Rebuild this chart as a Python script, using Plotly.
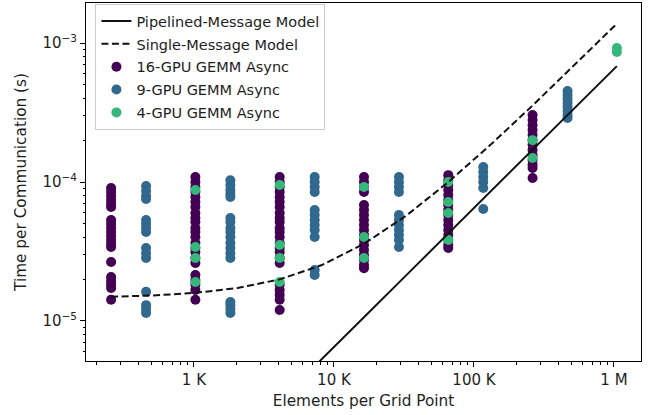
import plotly.graph_objects as go

# ---------------- data ----------------
# Model curves (elements per grid point -> seconds)
model_x = [256, 512, 1024, 2048, 4096, 8192, 16384, 32768, 65536,
           131072, 262144, 524288, 1048576]
pipelined_t = [1.66e-7, 3.33e-7, 6.66e-7, 1.33e-6, 2.66e-6, 5.32e-6, 1.065e-5,
               2.13e-5, 4.26e-5, 8.52e-5, 1.70e-4, 3.41e-4, 6.82e-4]
single_t = [1.493e-5, 1.527e-5, 1.593e-5, 1.726e-5, 1.992e-5, 2.525e-5, 3.59e-5,
            5.72e-5, 9.98e-5, 1.85e-4, 3.55e-4, 6.97e-4, 1.378e-3]

# 16-GPU GEMM Async
gpu16_x = [256, 1024, 4096, 16384, 65536, 262144]
gpu16_t = [
    [9.06e-5, 8.47e-5, 7.93e-5, 7.43e-5, 6.95e-5, 6.61e-5, 5.33e-5, 4.99e-5, 4.67e-5,
     4.37e-5, 4.09e-5, 3.83e-5, 3.58e-5, 3.41e-5, 2.66e-5, 2.07e-5, 1.94e-5, 1.82e-5,
     1.73e-5, 1.42e-5],
    [1.087e-4, 1.0e-4, 9.2e-5, 8.47e-5, 7.8e-5, 7.18e-5, 6.61e-5, 5.98e-5, 5.51e-5,
     5.16e-5, 4.67e-5, 4.37e-5, 4.02e-5, 3.64e-5, 3.35e-5, 3.13e-5, 2.84e-5, 2.61e-5,
     2.14e-5, 1.97e-5, 1.82e-5, 1.67e-5, 1.42e-5],
    [1.087e-4, 1.0e-4, 9.2e-5, 8.47e-5, 7.8e-5, 7.18e-5, 6.61e-5, 5.98e-5, 5.51e-5,
     5.16e-5, 4.67e-5, 4.37e-5, 4.02e-5, 3.64e-5, 3.35e-5, 3.13e-5, 2.84e-5, 2.61e-5,
     1.82e-5, 1.67e-5, 1.54e-5, 1.42e-5, 1.20e-5],
    [1.087e-4, 1.0e-4, 9.2e-5, 8.47e-5, 6.84e-5, 6.29e-5, 5.79e-5, 5.33e-5, 4.91e-5,
     4.52e-5, 4.16e-5, 3.83e-5, 3.52e-5, 3.24e-5, 2.98e-5, 2.75e-5, 2.53e-5, 2.40e-5],
    [1.12e-4, 1.03e-4, 9.51e-5, 8.75e-5, 8.06e-5, 7.43e-5, 6.84e-5, 6.29e-5, 5.79e-5,
     5.33e-5, 4.91e-5, 4.52e-5, 4.16e-5, 3.83e-5, 3.52e-5, 3.35e-5],
    [3.03e-4, 2.79e-4, 2.57e-4, 2.37e-4, 2.18e-4, 2.0e-4, 1.85e-4, 1.70e-4, 1.56e-4,
     1.44e-4, 1.33e-4, 1.26e-4, 1.07e-4],
]

# 9-GPU GEMM Async
gpu9_x = [455.1, 1820.4, 7281.8, 29127.1, 116508.4, 466033.8]
gpu9_t = [
    [9.35e-5, 8.61e-5, 7.93e-5, 7.55e-5, 5.33e-5, 4.99e-5, 4.67e-5, 4.37e-5, 3.35e-5,
     3.08e-5, 2.84e-5, 1.62e-5, 1.30e-5, 1.22e-5, 1.14e-5],
    [1.03e-4, 9.51e-5, 8.75e-5, 8.2e-5, 7.8e-5, 5.51e-5, 5.16e-5, 4.67e-5, 4.37e-5,
     4.02e-5, 3.64e-5, 3.35e-5, 3.08e-5, 2.84e-5, 1.37e-5, 1.30e-5, 1.22e-5, 1.14e-5],
    [1.087e-4, 1.0e-4, 9.2e-5, 8.47e-5, 6.29e-5, 5.79e-5, 5.33e-5, 4.91e-5, 4.52e-5,
     4.02e-5, 2.33e-5, 2.14e-5],
    [1.087e-4, 1.0e-4, 9.2e-5, 8.47e-5, 5.79e-5, 5.33e-5, 4.91e-5, 4.52e-5, 4.16e-5,
     3.83e-5, 3.41e-5],
    [1.28e-4, 1.18e-4, 1.087e-4, 1.0e-4, 9.06e-5, 6.4e-5],
    [4.52e-4, 4.23e-4, 3.96e-4, 3.70e-4, 3.46e-4, 3.24e-4, 3.03e-4, 2.89e-4],
]

# 4-GPU GEMM Async
gpu4_x = [1024, 4096, 16384, 65536, 262144, 1048576]
gpu4_t = [
    [8.75e-5, 3.41e-5, 2.84e-5, 1.91e-5],
    [9.51e-5, 3.52e-5, 2.84e-5, 1.91e-5],
    [9.2e-5, 4.02e-5, 2.84e-5],
    [1.0e-4, 7.18e-5, 5.98e-5, 3.83e-5],
    [2.0e-4, 1.49e-4],
    [9.21e-4, 8.62e-4],
]

x_tick_vals = [1e3, 1e4, 1e5, 1e6]
x_tick_text = ["1 K", "10 K", "100 K", "1 M"]
y_tick_vals = [1e-5, 1e-4, 1e-3]
y_tick_text = ["10<sup>\u22125</sup>", "10<sup>\u22124</sup>", "10<sup>\u22123</sup>"]


def flatten(xs, groups):
    fx, fy = [], []
    for x, g in zip(xs, groups):
        for v in g:
            fx.append(x)
            fy.append(v)
    return fx, fy


FONT = "DejaVu Sans"
TXT = "#1e1e1e"

fig = go.Figure()

series = [
    ("16-GPU GEMM Async", gpu16_x, gpu16_t, "#440154", 3),
    ("9-GPU GEMM Async", gpu9_x, gpu9_t, "#31688e", 4),
    ("4-GPU GEMM Async", gpu4_x, gpu4_t, "#35b779", 5),
]
for name, xs, groups, color, rank in series:
    fx, fy = flatten(xs, groups)
    fig.add_trace(go.Scatter(
        x=fx, y=fy, mode="markers", name=name, legendrank=rank,
        legendgroup=name,
        marker=dict(color=color, size=10, line=dict(width=0)),
    ))

fig.add_trace(go.Scatter(
    x=model_x, y=pipelined_t, mode="lines", name="Pipelined-Message Model",
    legendrank=1, legendgroup="pipe", line=dict(color="#111111", width=2),
))
fig.add_trace(go.Scatter(
    x=model_x, y=single_t, mode="lines", name="Single-Message Model",
    legendrank=2, legendgroup="single",
    line=dict(color="#111111", width=2, dash="7px,3.5px"),
))

minor_x = [m * 10 ** e for e in range(2, 7) for m in range(2, 10)]
minor_y = [m * 10 ** e for e in range(-6, -2) for m in range(2, 10)]

axis_common = dict(
    type="log", showgrid=False, zeroline=False, automargin=False,
    showline=True, linecolor="black", linewidth=1, mirror=True,
    ticks="outside", ticklen=5, tickwidth=1, tickcolor="black",
    tickfont=dict(family=FONT, size=15, color=TXT),
    title_font=dict(family=FONT, size=15.3, color=TXT),
)

fig.update_layout(
    width=651, height=415,
    margin=dict(l=86, r=10, t=3, b=54),
    paper_bgcolor="white", plot_bgcolor="white",
    font=dict(family=FONT, size=14.5, color=TXT),
    xaxis=dict(
        **axis_common,
        range=[2.229, 6.193],
        tickmode="array", tickvals=x_tick_vals, ticktext=x_tick_text,
        minor=dict(tickmode="array", tickvals=minor_x, ticks="outside",
                   ticklen=2.5, tickwidth=0.8, tickcolor="black", showgrid=False),
        title=dict(text="Elements per Grid Point", standoff=7),
    ),
    yaxis=dict(
        **axis_common,
        range=[-5.288, -2.712],
        tickmode="array", tickvals=y_tick_vals, ticktext=y_tick_text,
        minor=dict(tickmode="array", tickvals=minor_y, ticks="outside",
                   ticklen=2.5, tickwidth=0.8, tickcolor="black", showgrid=False),
        title=dict(text="Time per Communication (s)", standoff=12),
    ),
    legend=dict(
        x=0.017, y=0.997, xanchor="left", yanchor="top",
        bgcolor="rgba(255,255,255,0.8)", bordercolor="#cccccc", borderwidth=1,
        font=dict(family=FONT, size=14.5, color=TXT),
        traceorder="grouped", tracegroupgap=1,
    ),
    showlegend=True,
)

fig.write_html("out.html",
               config={"displayModeBar": False},
               post_script="document.body.style.margin='0';")
